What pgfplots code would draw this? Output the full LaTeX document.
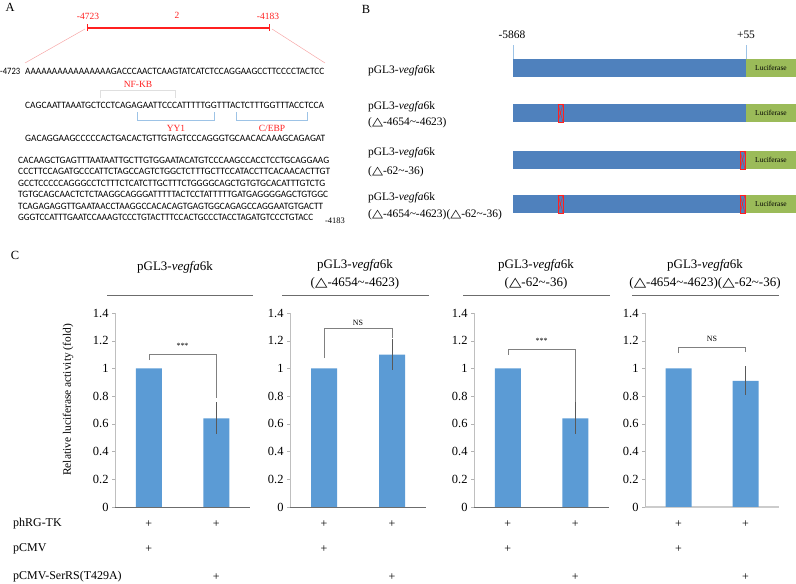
\documentclass[border=0pt]{standalone}
\usepackage{pgfplots}
\pgfplotsset{compat=1.18}
\usepackage{fontspec}
\setmainfont{Liberation Serif}
\newfontfamily\seqfont{Carlito}
\newfontfamily\symfont{DejaVu Sans}
\newcommand{\tri}{{\symfont\scalebox{1.25}[1]{△}}}
\newcommand{\tl}{\textasciitilde}
\definecolor{barblue}{HTML}{5B9BD5}
\definecolor{bblue}{HTML}{4F81BD}
\definecolor{lgreen}{HTML}{9BBB59}
\definecolor{lblue}{HTML}{9DC3E6}
\definecolor{mred}{HTML}{FF2020}
\definecolor{lred}{HTML}{F7A8A8}
\newcommand{\seqline}[4]{\node[anchor=west,inner sep=0pt] at (#1,#2) {\resizebox{#3bp}{6.3bp}{\seqfont #4}};}
\newcommand{\brow}[1]{%
  \fill[bblue] (513,#1) rectangle (746,#1+18);
  \fill[lgreen] (746,#1) rectangle (796,#1+18);
  \node[font=\fontsize{7.5}{8}\selectfont] at (771,#1+9) {Luciferase};}
\newcommand{\delmark}[2]{%
  \draw[mred,line width=0.6pt] (#1,#2) rectangle (#1+5,#2+18);
  \draw[mred,line width=0.4pt] (#1,#2)--(#1+5,#2+18) (#1,#2+18)--(#1+5,#2);}
\pgfplotsset{cstyle/.style={
  ybar, bar width=26bp, scale only axis, height=194bp,
  ymin=0, ymax=1.4, xmin=-0.5, xmax=1.5,
  ytick={0,0.2,0.4,0.6,0.8,1,1.2,1.4}, xtick=\empty,
  axis x line*=bottom, axis y line*=left,
  x axis line style={-,gray!85!black}, y axis line style={-,gray!50},
  tick align=outside, major tick length=3bp, ytick style={gray!60},
  yticklabel style={font=\fontsize{12.5}{12.5}\selectfont},
  /pgf/number format/assume math mode=true,
  clip=false, anchor=south west}}
\pgfplotsset{bstyle/.style={fill=barblue, draw=none,
  error bars/.cd, y dir=both, y explicit, error mark=none,
  error bar style={draw=black!65, line width=0.5pt}}}
\newcommand{\pluses}{%
  \node[font=\fontsize{12}{12}\selectfont] at (axis cs:0,-0.123) {+};
  \node[font=\fontsize{12}{12}\selectfont] at (axis cs:1,-0.123) {+};
  \node[font=\fontsize{12}{12}\selectfont] at (axis cs:0,-0.303) {+};
  \node[font=\fontsize{12}{12}\selectfont] at (axis cs:1,-0.505) {+};}
\begin{document}
\begin{tikzpicture}
\begin{scope}[x=1bp,y=1bp]
\path[use as bounding box] (0,0) rectangle (796,584);
% ---------- Panel A ----------
\node[font=\fontsize{12.5}{12.5}\selectfont] at (10,577) {A};
\begin{scope}[font=\fontsize{9.5}{9.5}\selectfont, text=mred]
\node at (88,568) {-4723};
\node at (177,569) {2};
\node at (268,568) {-4183};
\node at (138,500) {NF-KB};
\node at (176,456) {YY1};
\node at (272,456) {C/EBP};
\end{scope}
\draw[mred, line width=2.5bp] (87,556)--(269,556);
\draw[mred, line width=0.8bp] (87,553)--(87,560) (269,553)--(269,560);
\draw[lred, line width=0.5pt] (85,555)--(25,521) (272,555)--(325,521);
\draw[gray!25, line width=0.5pt] (100,486) |- (175,494) -- (175,486);
\draw[lblue, line width=0.6pt] (137,472) |- (214,464) -- (214,472);
\draw[lblue, line width=0.6pt] (236,472) |- (307,464) -- (307,472);
\node[anchor=west,inner sep=0pt] at (0,513) {\resizebox{20bp}{6.3bp}{\seqfont -4723}};
\seqline{25}{513}{299}{AAAAAAAAAAAAAAAAGACCCAACTCAAGTATCATCTCCAGGAAGCCTTCCCCTACTCC}
\seqline{25}{479}{299}{CAGCAATTAAATGCTCCTCAGAGAATTCCCATTTTTGGTTTACTCTTTGGTTTACCTCCA}
\seqline{25}{446}{300}{GACAGGAAGCCCCCACTGACACTGTTGTAGTCCCAGGGTGCAACACAAAGCAGAGAT}
\seqline{18}{424}{311}{CACAAGCTGAGTTTAATAATTGCTTGTGGAATACATGTCCCAAGCCACCTCCTGCAGGAAG}
\seqline{18}{412.5}{312}{CCCTTCCAGATGCCCATTCTAGCCAGTCTGGCTCTTTGCTTCCATACCTTCACAACACTTGT}
\seqline{18}{401}{307}{GCCTCCCCCAGGGCCTCTTTCTCATCTTGCTTTCTGGGGCAGCTGTGTGCACATTTGTCTG}
\seqline{18}{389.5}{310}{TGTGCAGCAACTCTCTAAGGCAGGGATTTTTACTCCTATTTTTGATGAGGGGAGCTGTGGC}
\seqline{18}{378}{305}{TCAGAGAGGTTGAATAACCTAAGGCCACACAGTGAGTGGCAGAGCCAGGAATGTGACTT}
\seqline{18}{367}{295}{GGGTCCATTTGAATCCAAAGTCCCTGTACTTTCCACTGCCCTACCTAGATGTCCCTGTACC}
\node[font=\fontsize{8.5}{8.5}\selectfont] at (335,363) {-4183};
% ---------- Panel B ----------
\node[font=\fontsize{12.5}{12.5}\selectfont] at (366,575) {B};
\node[font=\fontsize{11.5}{11.5}\selectfont] at (512,549) {-5868};
\node[font=\fontsize{11.5}{11.5}\selectfont] at (746,549) {+55};
\draw[lblue, line width=0.6pt] (513,525)--(513,539) (746,525)--(746,539);
\brow{507}
\brow{462}
\brow{415}
\brow{371}
\delmark{558}{462}
\delmark{740}{415}
\delmark{558}{371}
\delmark{740}{371}
\begin{scope}[font=\fontsize{11.5}{11.5}\selectfont, every node/.style={anchor=west, inner sep=0pt}]
\node at (368,513) {pGL3-\textit{vegfa}6k};
\node at (368,477) {pGL3-\textit{vegfa}6k};
\node at (368,461) {(\tri-4654\tl-4623)};
\node at (368,431) {pGL3-\textit{vegfa}6k};
\node at (368,412) {(\tri-62\tl-36)};
\node at (368,386) {pGL3-\textit{vegfa}6k};
\node at (368,369) {(\tri-4654\tl-4623)(\tri-62\tl-36)};
\end{scope}
% ---------- Panel C ----------
\node[font=\fontsize{12.5}{12.5}\selectfont] at (15,329) {C};
\node[font=\fontsize{13}{13}\selectfont] at (175,317) {pGL3-\textit{vegfa}6k};
\node[font=\fontsize{13}{18}\selectfont, align=center] at (355,310) {pGL3-\textit{vegfa}6k\\(\tri-4654\tl-4623)};
\node[font=\fontsize{13}{18}\selectfont, align=center] at (536,310) {pGL3-\textit{vegfa}6k\\(\tri-62\tl-36)};
\node[font=\fontsize{13}{18}\selectfont, align=center] at (705,310) {pGL3-\textit{vegfa}6k\\(\tri-4654\tl-4623)(\tri-62\tl-36)};
\draw[gray!85!black, line width=0.5pt] (107,289)--(253,289) (282,289)--(429,289) (463,289)--(610,289) (632,289)--(779,289);
\node[rotate=90, font=\fontsize{11.5}{11.5}\selectfont] at (68,184) {Relative luciferase activity (fold)};
\begin{scope}[font=\fontsize{12}{12}\selectfont, every node/.style={anchor=west, inner sep=0pt}]
\node at (13,60) {phRG-TK};
\node at (13,35) {pCMV};
\node at (13,7) {pCMV-SerRS(T429A)};
\end{scope}
\end{scope}
% axis 1
\begin{axis}[cstyle, at={(115bp,77bp)}, width=135bp]
\addplot[bstyle] coordinates {(0,1) +- (0,0) (1,0.64) +- (0,0.115)};
\draw[gray, line width=0.5pt] (axis cs:0,1.06) |- (axis cs:1,1.10) -- (axis cs:1,0.79);
\node[font=\fontsize{8}{8}\selectfont] at (axis cs:0.5,1.16) {***};
\pluses
\end{axis}
% axis 2
\begin{axis}[cstyle, at={(290bp,77bp)}, width=136bp]
\addplot[bstyle] coordinates {(0,1) +- (0,0) (1,1.10) +- (0,0.11)};
\draw[gray, line width=0.5pt] (axis cs:0,1.075) |- (axis cs:1,1.29) -- (axis cs:1,1.22);
\node[font=\fontsize{8}{8}\selectfont] at (axis cs:0.5,1.33) {NS};
\pluses
\end{axis}
% axis 3
\begin{axis}[cstyle, at={(474bp,77bp)}, width=135bp]
\addplot[bstyle] coordinates {(0,1) +- (0,0) (1,0.64) +- (0,0.115)};
\draw[gray, line width=0.5pt] (axis cs:0,1.10) |- (axis cs:1,1.14) -- (axis cs:1,0.76);
\node[font=\fontsize{8}{8}\selectfont] at (axis cs:0.5,1.20) {***};
\pluses
\end{axis}
% axis 4
\begin{axis}[cstyle, at={(645bp,77bp)}, width=134bp, x axis line style={-,gray!40,line width=1.5pt}]
\addplot[bstyle] coordinates {(0,1) +- (0,0) (1,0.91) +- (0,0.105)};
\draw[gray, line width=0.5pt] (axis cs:0,1.11) |- (axis cs:1,1.155) -- (axis cs:1,1.115);
\node[font=\fontsize{8}{8}\selectfont] at (axis cs:0.5,1.21) {NS};
\pluses
\end{axis}
\end{tikzpicture}
\end{document}
